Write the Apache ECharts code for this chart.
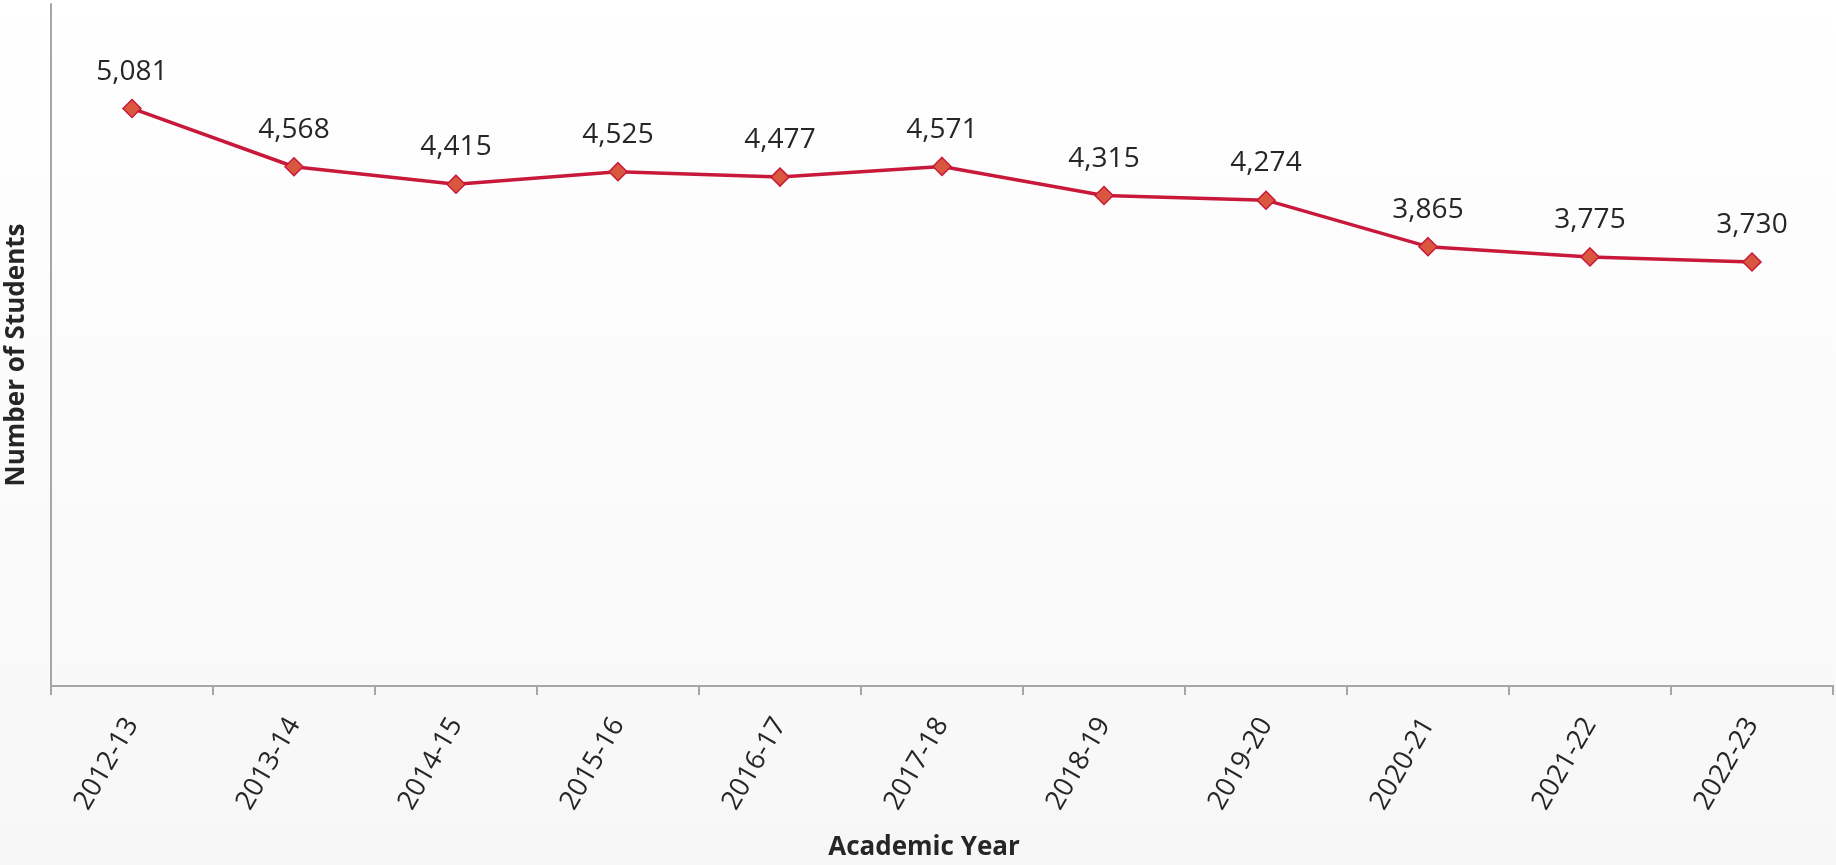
<!DOCTYPE html>
<html>
<head>
<meta charset="utf-8">
<script src="https://cdn.jsdelivr.net/npm/echarts@6/dist/echarts.min.js"></script>
<style>html,body{margin:0;padding:0;}#c{width:1836px;height:865px;}</style>
</head>
<body>
<div id="c"></div>
<script>
const categories = ['2012-13','2013-14','2014-15','2015-16','2016-17','2017-18','2018-19','2019-20','2020-21','2021-22','2022-23'];
const students = [5081, 4568, 4415, 4525, 4477, 4571, 4315, 4274, 3865, 3775, 3730];
const xAxisTitle = 'Academic Year';
const yAxisTitle = 'Number of Students';

const chart = echarts.init(document.getElementById('c'));
chart.setOption({
  backgroundColor: {
    type: 'linear', x: 0, y: 0, x2: 0, y2: 1,
    colorStops: [{offset: 0, color: '#ffffff'}, {offset: 1, color: '#f7f7f7'}]
  },
  textStyle: {fontFamily: 'Open Sans'},
  grid: {left: 51, right: 3, top: 4, bottom: 179, containLabel: false},
  xAxis: {
    type: 'category',
    data: categories,
    boundaryGap: true,
    axisLine: {lineStyle: {color: '#a6a6a6', width: 2}},
    axisTick: {show: true, length: 9, lineStyle: {color: '#a6a6a6', width: 2}},
    axisLabel: {rotate: 60, margin: 34, fontSize: 27, color: '#262626', fontFamily: 'Open Sans'}
  },
  yAxis: {
    type: 'value',
    min: 0, max: 6000, interval: 1000,
    axisLine: {show: true, lineStyle: {color: '#a6a6a6', width: 2}},
    axisTick: {show: false},
    axisLabel: {show: false},
    splitLine: {show: false}
  },
  graphic: [
    {type: 'text', position: [924, 848], style: {text: xAxisTitle, x: 0, y: 0, textAlign: 'center', textVerticalAlign: 'middle', font: 'bold 26px "Open Sans"', fill: '#262626'}},
    {type: 'text', position: [17, 355], rotation: Math.PI / 2, style: {text: yAxisTitle, x: 0, y: 0, textAlign: 'center', textVerticalAlign: 'middle', font: 'bold 26px "Open Sans"', fill: '#262626'}}
  ],
  series: [{
    type: 'line',
    data: students,
    symbol: 'diamond',
    symbolSize: 18,
    lineStyle: {color: '#c8193a', width: 3.5},
    itemStyle: {color: '#d9573e', borderColor: '#c8193a', borderWidth: 1.5},
    label: {
      show: true, position: 'top', distance: 13,
      fontSize: 28, color: '#262626', fontFamily: 'Open Sans',
      formatter: p => p.value.toLocaleString('en-US')
    },
    animation: false
  }]
});
</script>
</body>
</html>
